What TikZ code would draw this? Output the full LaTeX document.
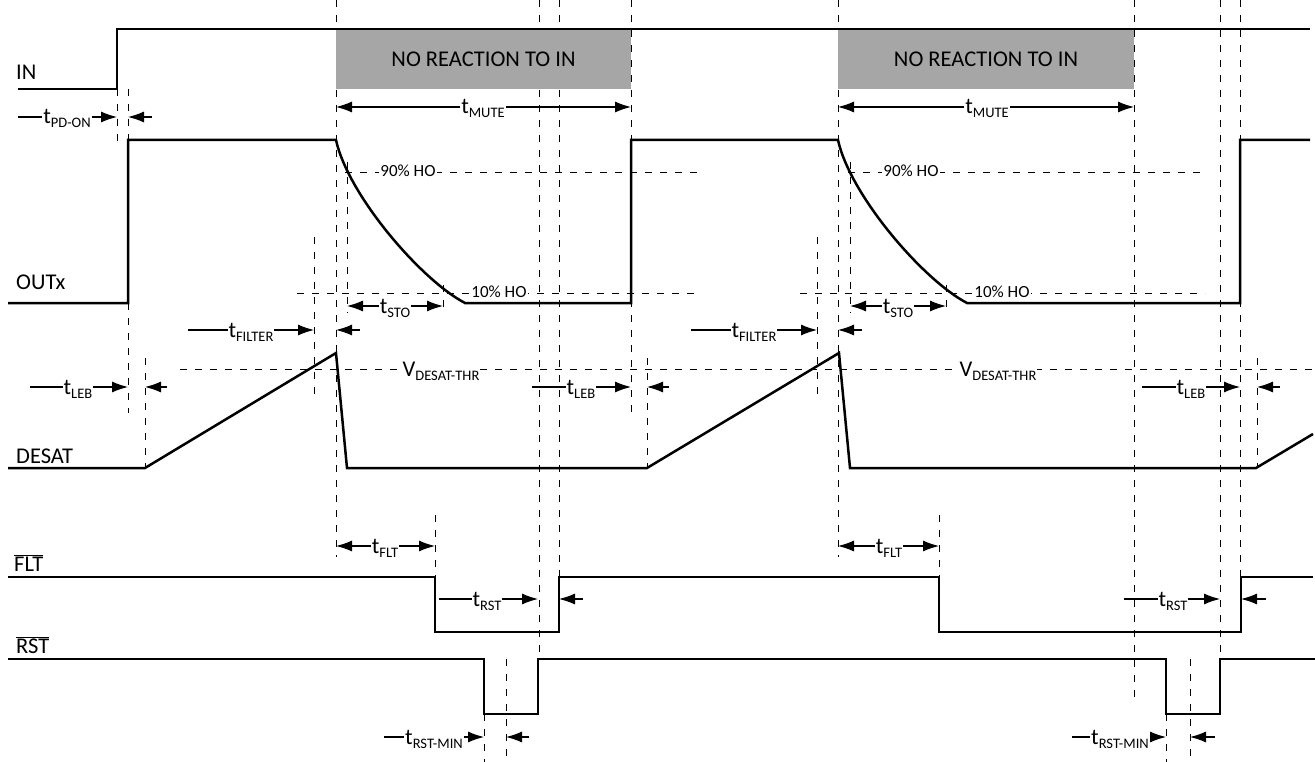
\documentclass[tikz,border=0pt]{standalone}
\usepackage{fontspec}
\setmainfont{Carlito}
\usetikzlibrary{arrows.meta}
\definecolor{mutegray}{RGB}{166,166,166}
\newcommand{\tsb}[2][t]{#1\raisebox{-4pt}{\fontsize{14.5}{16}\selectfont #2}}

\begin{document}
\begin{tikzpicture}[x=1pt, y=-1pt,
  every node/.style={font=\fontsize{22.5}{25}\selectfont},
  sig/.style={line width=2.5pt, line join=miter},
  guide/.style={line width=0.9pt, dash pattern=on 7pt off 8pt},
  dimr/.style={-{Latex[length=16pt,width=11pt]}, line width=1.1pt},
  dimlr/.style={{Latex[length=16pt,width=11pt]}-{Latex[length=16pt,width=11pt]}, line width=1.1pt},
  tlab/.style={fill=white, inner sep=1pt, anchor=base},
  plab/.style={fill=white, inner sep=1pt, anchor=base, font=\fontsize{17}{19}\selectfont},
  siglab/.style={anchor=base west, inner sep=0pt},
]

% ===== Frame: pixel grid of the 1315 x 762 figure, y pointing down =====
\useasboundingbox (0,0) rectangle (1315,762);

%% ---- VERTICAL TIMING GUIDES ----
\foreach \gx/\ya/\yb in {117/89/143, 128/89/140, 128/303/413, 145/358/468,
    336/0/557, 347/162/313, 443/285/313, 314/237/400, 435/515/577,
    539/0/659, 559/0/577, 484/714/762, 506/659/762, 631/0/418,
    647/358/468, 817/237/400, 838/0/557, 850/162/313, 946/285/313,
    939/515/577, 1134/0/703, 1220/0/659, 1240/0/577, 1257/358/468,
    1166/714/762, 1190/659/762}
  \draw[guide] (\gx,\ya) -- (\gx,\yb);

%% ---- MUTE WINDOWS ----
\fill[mutegray] (336,29) rectangle (631,89);
\node (mute1) at (483.5,59) {NO REACTION TO IN};
\fill[mutegray] (838,29) rectangle (1134,89);
\node (mute2) at (986,59) {NO REACTION TO IN};

%% ---- HORIZONTAL LEVELS ----
\draw[guide] (345,172) -- (700,172);
\draw[guide] (848,172) -- (1205,172);
\draw[guide] (297,293) -- (700,293);
\draw[guide] (800,293) -- (1205,293);
\draw[guide] (180,369) -- (1313,369);

%% ---- SIGNALS ----
% IN
\draw[sig] (18,89) -- (117,89) -- (117,29) -- (1310,29);
\node[siglab] (in) at (16,80) {IN};

% OUTx with soft turn-off
\draw[sig] (8,303) -- (128,303) -- (128,140) -- (336,140)
  .. controls (348,195) and (421,280) .. (465,303)
  -- (631,303) -- (631,140) -- (838,140)
  .. controls (850,195) and (923,280) .. (967,303)
  -- (1240,303) -- (1240,140) -- (1310,140);
\node[siglab] (outx) at (16,290) {OUTx};

% DESAT
\draw[sig] (8,468) -- (145,468) -- (336,353) -- (347,468) -- (647,468)
  -- (839,353) -- (850,468) -- (1256,468) -- (1313,434);
\node[siglab] (desat) at (16,463) {DESAT};

% FLT
\draw[sig] (8,577) -- (435,577) -- (435,632) -- (559,632) -- (559,577)
  -- (939,577) -- (939,632) -- (1241,632) -- (1241,577) -- (1313,577);
\node[siglab] (flt) at (14,571) {$\overline{\hbox{FLT}}$};

% RST
\draw[sig] (8,659) -- (484,659) -- (484,714) -- (538,714) -- (538,659)
  -- (1166,659) -- (1166,714) -- (1220,714) -- (1220,659) -- (1315,659);
\node[siglab] (rst) at (16,653) {$\overline{\hbox{RST}}$};

%% ---- TIMING ARROWS ----
% t_PD-ON
\draw[dimr] (18,117) -- (117,117);
\draw[dimr] (152,117) -- (128,117);
\node[tlab] (tpdon) at (67,124) {\tsb{PD-ON}};

% t_MUTE
\draw[dimlr] (336,107) -- (631,107);
\node[tlab] (tmute1) at (483,114) {\tsb{MUTE}};
\draw[dimlr] (838,107) -- (1134,107);
\node[tlab] (tmute2) at (987,114) {\tsb{MUTE}};

% 90% / 10% levels
\node[plab] (ho90a) at (408,177) {90\% HO};
\node[plab] (ho90b) at (911,177) {90\% HO};
\node[plab] (ho10a) at (499,298) {10\% HO};
\node[plab] (ho10b) at (1002,298) {10\% HO};

% t_STO
\draw[dimlr] (347,306) -- (443,306);
\node[tlab] (tsto1) at (395,313) {\tsb{STO}};
\draw[dimlr] (850,306) -- (946,306);
\node[tlab] (tsto2) at (898,313) {\tsb{STO}};

% t_FILTER
\draw[dimr] (188,330) -- (314,330);
\draw[dimr] (360,330) -- (336,330);
\node[tlab] (tfil1) at (251,337) {\tsb{FILTER}};
\draw[dimr] (691,330) -- (817,330);
\node[tlab] (tfil2) at (754,337) {\tsb{FILTER}};
\draw[dimr] (862,330) -- (838,330);

% V_DESAT-THR
\node[tlab] (vthr1) at (441,376) {\tsb[V]{DESAT-THR}};
\node[tlab] (vthr2) at (998,376) {\tsb[V]{DESAT-THR}};

% t_LEB
\draw[dimr] (30,387) -- (128,387);
\draw[dimr] (167,387) -- (145,387);
\node[tlab] (tleb1) at (78,394) {\tsb{LEB}};
\draw[dimr] (532,387) -- (631,387);
\draw[dimr] (669,387) -- (647,387);
\node[tlab] (tleb2) at (581,394) {\tsb{LEB}};
\draw[dimr] (1142,387) -- (1240,387);
\draw[dimr] (1280,387) -- (1257,387);
\node[tlab] (tleb3) at (1191,394) {\tsb{LEB}};

% t_FLT
\draw[dimlr] (336,546) -- (435,546);
\node[tlab] (tflt1) at (385,553) {\tsb{FLT}};
\draw[dimlr] (838,546) -- (939,546);
\node[tlab] (tflt2) at (889,553) {\tsb{FLT}};

% t_RST
\draw[dimr] (439,599) -- (538,599);
\draw[dimr] (583,599) -- (559,599);
\node[tlab] (trst1) at (487,606) {\tsb{RST}};
\draw[dimr] (1124,599) -- (1220,599);
\draw[dimr] (1266,599) -- (1241,599);
\node[tlab] (trst2) at (1173,606) {\tsb{RST}};

% t_RST-MIN
\draw[dimr] (384,737) -- (484,737);
\draw[dimr] (529,737) -- (506,737);
\node[tlab] (tmin1) at (434,744) {\tsb{RST-MIN}};
\draw[dimr] (1072,737) -- (1166,737);
\draw[dimr] (1215,737) -- (1190,737);
\node[tlab] (tmin2) at (1120,744) {\tsb{RST-MIN}};

\end{tikzpicture}
\end{document}
